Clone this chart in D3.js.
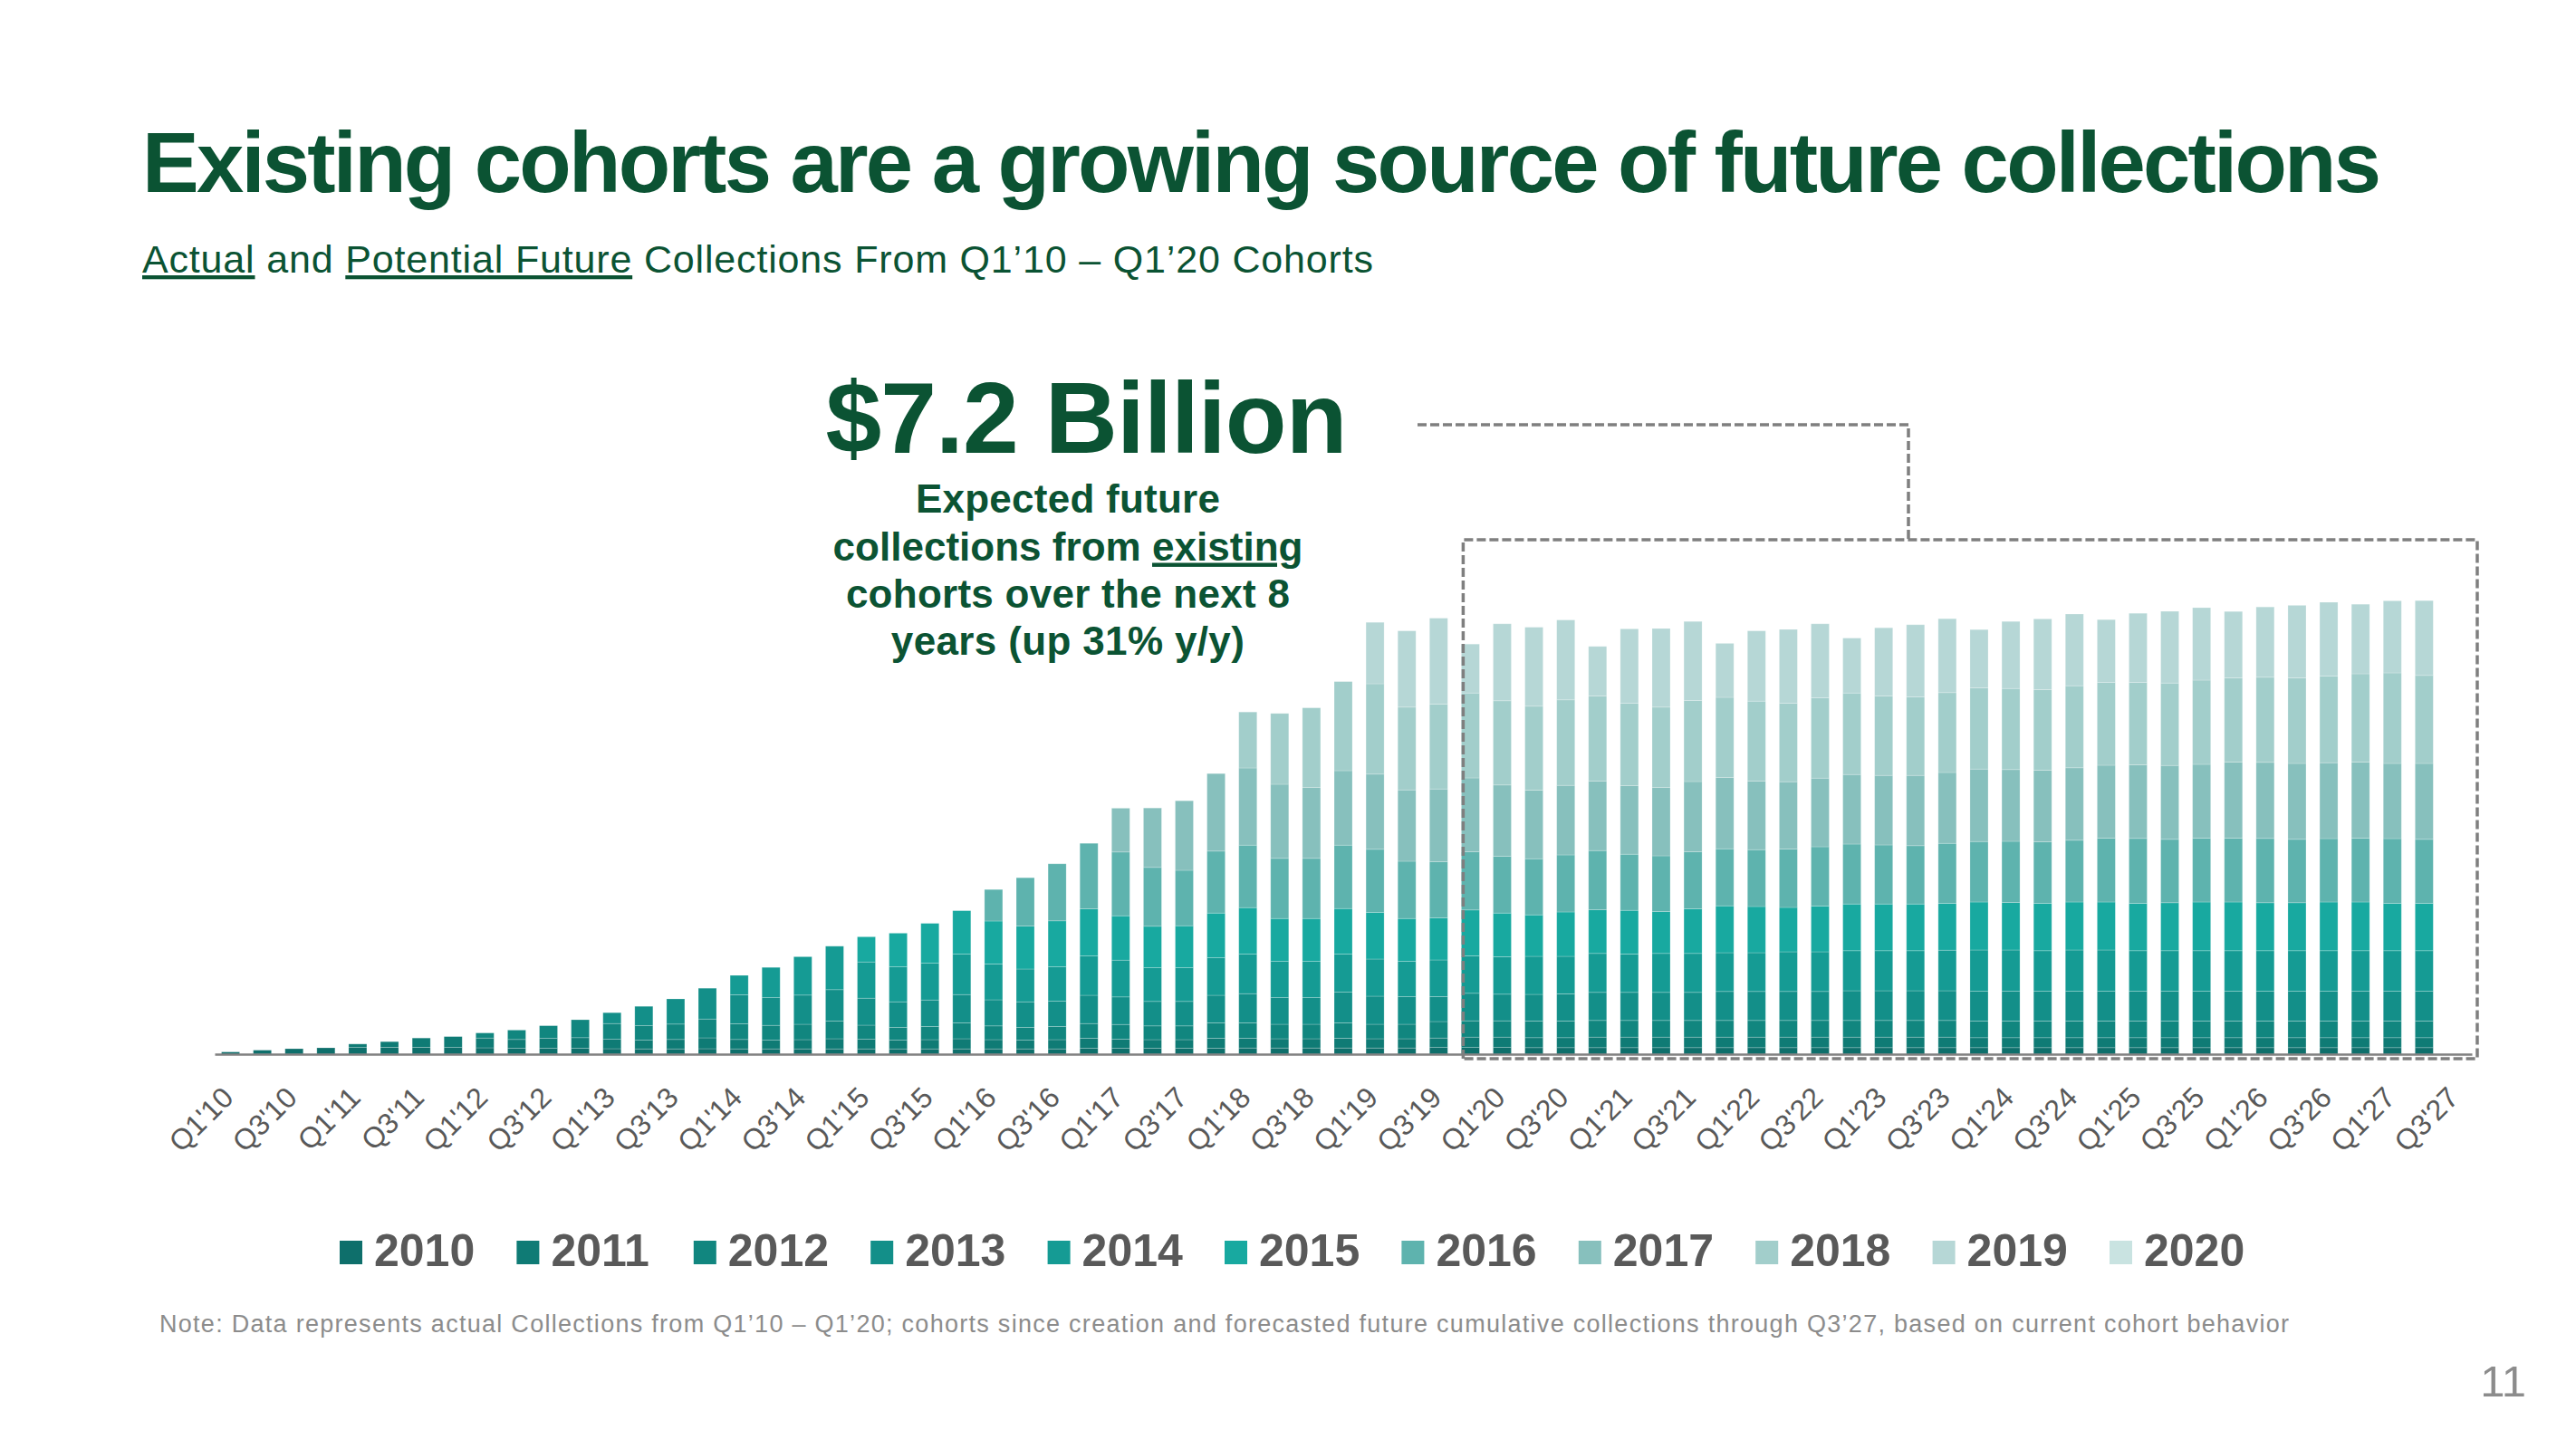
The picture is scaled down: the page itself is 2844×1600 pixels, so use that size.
<!DOCTYPE html>
<html><head><meta charset="utf-8">
<script src="https://cdn.jsdelivr.net/npm/d3@7"></script>
<style>html,body{margin:0;padding:0;background:#fff}svg{display:block}</style>
</head><body>
<svg id="chart" width="2844" height="1600"></svg>
<script>
// ---------- DATA ----------
const quarters = ["Q1'10","Q2'10","Q3'10","Q4'10","Q1'11","Q2'11","Q3'11","Q4'11","Q1'12","Q2'12",
"Q3'12","Q4'12","Q1'13","Q2'13","Q3'13","Q4'13","Q1'14","Q2'14","Q3'14","Q4'14",
"Q1'15","Q2'15","Q3'15","Q4'15","Q1'16","Q2'16","Q3'16","Q4'16","Q1'17","Q2'17",
"Q3'17","Q4'17","Q1'18","Q2'18","Q3'18","Q4'18","Q1'19","Q2'19","Q3'19","Q4'19",
"Q1'20","Q2'20","Q3'20","Q4'20","Q1'21","Q2'21","Q3'21","Q4'21","Q1'22","Q2'22",
"Q3'22","Q4'22","Q1'23","Q2'23","Q3'23","Q4'23","Q1'24","Q2'24","Q3'24","Q4'24",
"Q1'25","Q2'25","Q3'25","Q4'25","Q1'26","Q2'26","Q3'26","Q4'26","Q1'27","Q2'27","Q3'27"];

const tickLabels = ["Q1'10","Q3'10","Q1'11","Q3'11","Q1'12","Q3'12","Q1'13","Q3'13","Q1'14","Q3'14",
"Q1'15","Q3'15","Q1'16","Q3'16","Q1'17","Q3'17","Q1'18","Q3'18","Q1'19","Q3'19",
"Q1'20","Q3'20","Q1'21","Q3'21","Q1'22","Q3'22","Q1'23","Q3'23","Q1'24","Q3'24",
"Q1'25","Q3'25","Q1'26","Q3'26","Q1'27","Q3'27"];

const cohorts = ["2010","2011","2012","2013","2014","2015","2016","2017","2018","2019","2020"];
const cohortColors = ["#0e6f6b","#0f7b75","#11867f","#138f89","#159b94","#18a9a0","#5eb3ae","#87c0bd","#a2cecb","#b6d7d6","#c9e3e1"];

// quarterly collections by cohort, $M
const c2010 = [1.2,2.2,3.0,3.5,3.7,3.8,3.8,3.7,3.5,3.2,
3.2,3.2,3.0,2.9,2.9,3.0,2.9,2.9,2.9,2.9,
2.9,2.9,2.9,2.9,2.9,2.9,2.9,3.2,3.2,3.2,
3.2,3.2,3.4,3.4,3.4,3.4,3.4,3.4,3.7,3.7,
3.7,3.6,3.6,3.6,3.6,3.6,3.6,3.6,3.6,3.6,
3.6,3.6,3.6,3.6,3.6,3.6,3.6,3.6,3.6,3.6,
3.6,3.6,3.6,3.6,3.6,3.6,3.6,3.6,3.6,3.6,0];
const c2011 = [0,0,0,0,1.9,3.1,5.1,6.0,5.4,4.9,
5.5,5.9,5.2,4.8,5.2,6.0,5.2,4.8,5.1,5.6,
5.3,4.8,5.1,5.6,5.1,4.8,5.1,5.6,5.1,4.8,
4.8,5.6,5.4,5.1,5.1,5.4,5.1,5.1,5.2,5.7,
5.7,5.5,5.5,5.8,5.8,5.8,5.8,5.8,5.8,5.8,
5.8,5.8,5.8,5.8,5.8,5.5,5.5,5.5,5.5,5.5,
5.5,5.5,5.5,5.5,5.5,5.5,5.5,5.5,5.5,5.5,0];
const c2012 = [0,0,0,0,0,0,0,0,2.8,5.2,
7.0,9.9,8.7,8.0,8.5,10.4,8.7,8.2,8.5,9.7,
7.8,7.1,7.3,8.8,7.6,7.1,7.3,8.1,8.1,7.6,
7.6,8.5,8.5,8.0,8.0,8.5,8.0,8.0,9.1,9.0,
9.0,9.2,9.2,9.2,9.2,9.2,9.2,9.2,9.2,9.2,
9.2,9.2,9.2,9.2,9.2,9.2,9.2,9.2,9.2,9.2,
9.2,9.2,9.2,9.2,9.2,9.2,9.2,9.2,9.2,9.2,0];
const c2013 = [0,0,0,0,0,0,0,0,0,0,
0,0,6.0,10.7,13.9,17.0,16.0,15.3,16.1,17.4,
14.9,14.1,14.6,15.6,14.4,14.1,13.9,15.6,15.2,13.5,
13.5,15.2,16.1,14.7,14.7,16.9,15.5,15.2,13.8,15.2,
14.7,14.7,15.0,15.5,15.5,15.5,15.5,16.0,16.0,16.0,
16.0,16.4,16.4,16.4,16.4,16.4,16.4,16.4,16.4,16.4,
16.4,16.4,16.4,16.4,16.4,16.4,16.4,16.4,16.4,16.4,0];
const c2014 = [0,0,0,0,0,0,0,0,0,0,
0,0,0,0,0,0,10.7,16.7,21.2,24.0,
20.0,19.3,20.3,22.3,19.8,18.1,19.0,21.7,20.3,18.6,
18.6,20.7,21.8,20.0,20.0,21.0,20.5,19.5,20.2,20.7,
20.7,21.0,20.7,21.5,21.2,21.5,21.5,21.4,21.4,21.9,
21.9,22.1,22.1,22.1,22.4,22.8,22.8,22.4,22.8,22.8,
22.4,22.4,22.4,22.4,22.4,22.4,22.4,22.4,22.4,22.4,0];
const c2015 = [0,0,0,0,0,0,0,0,0,0,
0,0,0,0,0,0,0,0,0,0,
13.9,18.6,22.0,24.0,23.7,23.7,25.4,26.0,24.5,22.9,
23.2,24.7,25.7,23.7,23.7,25.2,25.8,23.7,23.3,25.3,
24.1,22.9,24.5,24.1,24.1,23.1,24.7,25.9,25.5,24.5,
25.3,25.8,25.8,25.8,25.9,26.5,26.2,26.2,26.5,26.5,
26.2,26.5,26.9,26.9,26.5,26.5,26.9,26.9,26.2,26.2,0];
const c2016 = [0,0,0,0,0,0,0,0,0,0,
0,0,0,0,0,0,0,0,0,0,
0,0,0,0,17.4,26.7,31.5,36.2,35.2,32.5,
30.6,34.2,34.5,33.2,33.2,35.0,34.8,31.6,31.0,32.2,
31.4,31.0,31.5,32.7,31.0,30.8,31.4,31.5,31.4,32.2,
32.7,33.1,32.6,32.2,33.1,33.4,33.8,33.9,34.1,35.2,
35.8,35.0,35.2,35.2,35.5,35.0,35.0,35.2,35.7,35.3,0];
const c2017 = [0,0,0,0,0,0,0,0,0,0,
0,0,0,0,0,0,0,0,0,0,
0,0,0,0,0,0,0,0,24.2,32.8,
38.4,42.8,42.6,40.9,39.1,41.1,41.5,39.4,40.1,40.7,
39.3,37.9,38.4,38.3,37.9,37.7,38.8,39.3,37.9,37.2,
37.9,38.4,38.4,38.8,39.1,40.0,39.6,39.6,40.0,40.3,
40.7,40.8,40.8,42.0,42.0,41.9,41.9,42.0,41.5,41.9,0];
const c2018 = [0,0,0,0,0,0,0,0,0,0,
0,0,0,0,0,0,0,0,0,0,
0,0,0,0,0,0,0,0,0,0,
0,0,30.9,39.1,44.0,49.2,49.9,45.7,46.9,46.9,
46.5,46.3,47.2,47.0,45.5,44.4,44.8,44.3,44.1,43.4,
44.4,45.0,43.8,43.4,44.1,44.8,44.8,44.4,45.3,45.8,
45.5,45.5,46.5,46.5,47.0,47.2,47.9,48.8,50.0,48.6,0];
const c2019 = [0,0,0,0,0,0,0,0,0,0,
0,0,0,0,0,0,0,0,0,0,
0,0,0,0,0,0,0,0,0,0,
0,0,0,0,0,0,33.9,42.1,47.4,27.0,
42.5,43.6,44.1,27.4,41.0,43.4,43.6,29.8,38.8,40.7,
40.8,30.3,37.7,39.8,40.8,32.2,37.0,39.1,39.6,34.6,
38.1,39.6,40.0,36.7,38.8,40.1,40.7,38.4,39.8,41.3,0];
const c2020 = [0,0,0,0,0,0,0,0,0,0,
0,0,0,0,0,0,0,0,0,0,
0,0,0,0,0,0,0,0,0,0,
0,0,0,0,0,0,0,0,0,0,
0,0,0,0,0,0,0,0,0,0,
0,0,0,0,0,0,0,0,0,0,
0,0,0,0,0,0,0,0,0,0,0];

// ---------- CHART ----------
const W = 2844, H = 1600;
const F = "'Liberation Sans', Arial, Helvetica, sans-serif";
const GREEN = "#0b5333", GREY = "#595959", DASH = "#7f7f7f";
const svg = d3.select("#chart");
svg.append("rect").attr("width", W).attr("height", H).attr("fill", "#fff");

const series = {"2010":c2010,"2011":c2011,"2012":c2012,"2013":c2013,"2014":c2014,"2015":c2015,
  "2016":c2016,"2017":c2017,"2018":c2018,"2019":c2019,"2020":c2020};
const rows = quarters.map((q, i) => { const r = {q}; cohorts.forEach(c => r[c] = series[c][i]); return r; });

const x = d3.scaleBand().domain(quarters).range([237, 2729]).paddingInner(0.43).paddingOuter(0.215);
const y = d3.scaleLinear().domain([0, 250]).range([1164, 664]);
const color = d3.scaleOrdinal().domain(cohorts).range(cohortColors);
const stacked = d3.stack().keys(cohorts)(rows);

svg.append("g").selectAll("g").data(stacked).join("g")
  .attr("fill", d => color(d.key))
  .selectAll("rect").data(d => d.filter(p => p[1] - p[0] > 0)).join("rect")
  .attr("x", p => x(p.data.q)).attr("width", x.bandwidth())
  .attr("y", p => y(p[1])).attr("height", p => y(p[0]) - y(p[1]))
  .attr("stroke", "rgba(255,255,255,0.28)").attr("stroke-width", 0.8);

// axis
const axis = d3.axisBottom(x).tickValues(tickLabels).tickSize(0).tickSizeOuter(0).tickPadding(0);
const gx = svg.append("g").attr("transform", "translate(0,1164)").call(axis);
gx.select(".domain").attr("stroke", "#808080").attr("stroke-width", 2.5);
gx.selectAll(".tick text")
  .attr("font-family", F).attr("font-size", 32).attr("fill", GREY)
  .attr("text-anchor", "end").attr("x", 0).attr("y", 0).attr("dy", 0)
  .attr("transform", "translate(5,50) rotate(-45)");

// dashed forecast box + connector
const boxL = x("Q4'19") + 2, boxR = 2735, boxT = 596, boxB = 1169;
const dash = svg.append("g").attr("fill", "none").attr("stroke", DASH)
  .attr("stroke-width", 3.5).attr("stroke-dasharray", "10,4");
dash.append("path").attr("d", `M${boxL},${boxB} V${boxT} H${boxR} V${boxB} H${boxL}`);
dash.append("path").attr("d", `M1565,469 H2107 V${boxT}`);

// text helpers
function fit(sel, target) {
  const t = sel.text();
  const w = sel.node().getComputedTextLength();
  sel.attr("letter-spacing", ((target - w) / Math.max(1, t.length - 1)).toFixed(3));
}

// title
const title = svg.append("text").attr("x", 157).attr("y", 212)
  .attr("font-family", F).attr("font-weight", "bold").attr("font-size", 94).attr("fill", GREEN)
  .text("Existing cohorts are a growing source of future collections");
fit(title, 2472);

// subtitle
const sub = svg.append("text").attr("x", 157).attr("y", 301)
  .attr("font-family", F).attr("font-size", 43).attr("fill", GREEN);
sub.append("tspan").attr("text-decoration", "underline").text("Actual");
sub.append("tspan").text(" and ");
sub.append("tspan").attr("text-decoration", "underline").text("Potential Future");
sub.append("tspan").text(" Collections From Q1\u201910 \u2013 Q1\u201920 Cohorts");
fit(sub, 1359);

// big number
const big = svg.append("text").attr("x", 1199).attr("y", 500).attr("text-anchor", "middle")
  .attr("font-family", F).attr("font-weight", "bold").attr("font-size", 111).attr("fill", GREEN)
  .text("$7.2 Billion");
fit(big, 576);

// annotation
const annLines = [
  {t: ["Expected future"], y: 566, w: 336},
  {t: ["collections from ", "existing"], y: 618.5, w: 519},
  {t: ["cohorts over the next 8"], y: 671, w: 490},
  {t: ["years (up 31% y/y)"], y: 723, w: 390}
];
annLines.forEach(l => {
  const tx = svg.append("text").attr("x", 1179).attr("y", l.y).attr("text-anchor", "middle")
    .attr("font-family", F).attr("font-weight", "bold").attr("font-size", 44).attr("fill", GREEN);
  l.t.forEach((s, i) => {
    const ts = tx.append("tspan").text(s);
    if (i === 1) ts.attr("text-decoration", "underline");
  });
  fit(tx, l.w);
});

// legend
const lg = svg.append("g");
cohorts.forEach((c, i) => {
  const lx = 375 + i * 195.4;
  lg.append("rect").attr("x", lx).attr("y", 1370).attr("width", 25).attr("height", 26).attr("fill", color(c));
  lg.append("text").attr("x", lx + 38).attr("y", 1398)
    .attr("font-family", F).attr("font-weight", "bold").attr("font-size", 50).attr("fill", GREY).text(c);
});

// note
const note = svg.append("text").attr("x", 176).attr("y", 1471)
  .attr("font-family", F).attr("font-size", 27).attr("fill", "#8c8c8c")
  .text("Note: Data represents actual Collections from Q1\u201910 \u2013 Q1\u201920; cohorts since creation and forecasted future cumulative collections through Q3\u201927, based on current cohort behavior");
fit(note, 2351);

// page number
svg.append("text").attr("x", 2789).attr("y", 1542).attr("text-anchor", "end")
  .attr("font-family", F).attr("font-size", 49).attr("fill", "#8c8c8c").text("11");
</script>
</body></html>
